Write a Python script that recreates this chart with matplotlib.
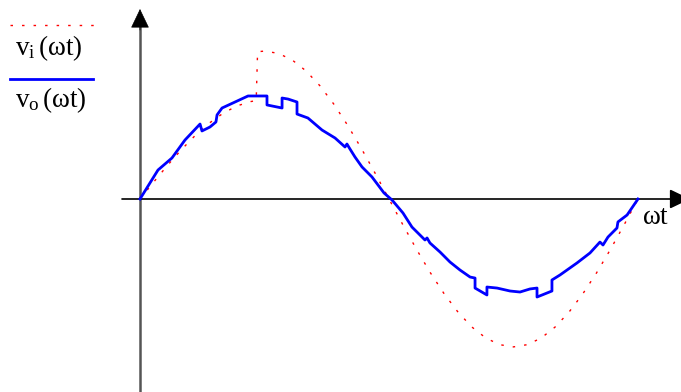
import matplotlib
matplotlib.use("Agg")
import matplotlib.pyplot as plt

plt.rcParams['mathtext.fontset'] = 'custom'
plt.rcParams['mathtext.rm'] = 'Liberation Serif'
plt.rcParams['mathtext.it'] = 'Liberation Serif'
plt.rcParams['font.family'] = ['Liberation Serif', 'DejaVu Serif']

# angle in degrees, output voltage (per unit)
vo_angle = [0, 13.0, 23.1, 32.5, 43.4, 44.8, 50.6, 54.9, 55.7, 59.3, 68.7, 78.1,
            91.8, 91.8, 102.7, 102.7, 107.0, 113.5, 113.5, 121.4, 131.6, 141.0,
            148.2, 149.6, 151.8, 155.4, 160.5, 167.7, 176.4, 182.2, 190.1, 196.6,
            206.0, 207.5, 209.6, 216.9, 224.1, 231.3, 238.6, 242.2, 242.2, 250.8,
            250.8, 258.1, 267.5, 274.7, 281.9, 287.0, 287.0, 297.8, 297.8, 303.6,
            315.9, 325.3, 332.5, 334.7, 338.3, 344.8, 345.5, 352.1, 360]
vo_value = [0, 0.284, 0.402, 0.578, 0.735, 0.667, 0.706, 0.755, 0.824, 0.892, 0.951, 1.010,
            1.010, 0.922, 0.892, 0.990, 0.980, 0.951, 0.833, 0.794, 0.676, 0.598,
            0.510, 0.539, 0.490, 0.412, 0.314, 0.216, 0.059, -0.010, -0.137, -0.275,
            -0.402, -0.382, -0.431, -0.520, -0.618, -0.696, -0.765, -0.775, -0.873, -0.941,
            -0.863, -0.873, -0.902, -0.912, -0.882, -0.873, -0.961, -0.902, -0.794, -0.745,
            -0.627, -0.529, -0.422, -0.451, -0.373, -0.284, -0.225, -0.157, 0]

# input voltage (per unit)
vi_angle = [0, 10, 20, 30, 40, 50, 60, 70, 80, 84, 85, 90, 100, 110, 120, 130, 140,
            150, 160, 170, 180, 190, 200, 210, 220, 230, 240, 250, 260, 270, 280,
            290, 300, 310, 320, 330, 340, 350, 360]
vi_value = [0, 0.168, 0.332, 0.485, 0.624, 0.743, 0.840, 0.912, 0.955, 0.965, 1.444,
            1.45, 1.428, 1.363, 1.256, 1.111, 0.932, 0.725, 0.496, 0.252, 0,
            -0.252, -0.496, -0.725, -0.932, -1.111, -1.256, -1.363, -1.428, -1.45,
            -1.428, -1.363, -1.256, -1.111, -0.932, -0.725, -0.496, -0.252, 0]

legend_labels = [r'$\mathrm{v_{i}\,(\omega t)}$', r'$\mathrm{v_{o}\,(\omega t)}$']
x_label = r'$\mathrm{\omega t}$'

W, H = 681, 392
fig = plt.figure(figsize=(W / 100, H / 100), dpi=100)
ax = fig.add_axes([0, 0, 1, 1])
pxdeg = 498 / 360.0
ax.set_xlim(-140 / pxdeg, (W - 140) / pxdeg)
ax.set_ylim(-(H - 199) / 102.0, 199 / 102.0)
ax.axis('off')

head = '-|>,head_length=1.25,head_width=0.6'
# vertical axis: gray shaft, black head
ax.plot([0, 0], [-(H - 199) / 102.0 - 0.05, (199 - 24) / 102.0], color='#555555',
        lw=1.8, solid_capstyle='butt', zorder=2)
ax.annotate('', xy=(0, (199 - 9) / 102.0), xytext=(0, (199 - 30) / 102.0),
            arrowprops=dict(arrowstyle=head, color='black', lw=0.5,
                            shrinkA=0, shrinkB=0), annotation_clip=False)
# horizontal axis
ax.annotate('', xy=((690 - 140) / pxdeg, 0), xytext=(-18 / pxdeg, 0),
            arrowprops=dict(arrowstyle=head, color='black', lw=1.2,
                            shrinkA=0, shrinkB=0), annotation_clip=False)

ax.plot(vi_angle, vi_value, color='red', lw=1.0, dashes=(1.8, 6.5), zorder=3)
ax.plot(vo_angle, vo_value, color='#0000ff', lw=2.0, zorder=4)

# legend drawn on the figure
fig.lines.append(plt.Line2D([10 / W, 95 / W], [1 - 25 / H, 1 - 25 / H],
                            color='red', lw=1.0, dashes=(1.8, 6.5),
                            transform=fig.transFigure))
fig.lines.append(plt.Line2D([10 / W, 93 / W], [1 - 79 / H, 1 - 79 / H],
                            color='#0000ff', lw=2.0, transform=fig.transFigure))
fig.text(15 / W, 1 - 48 / H, legend_labels[0], fontsize=19.5, va='center', ha='left')
fig.text(15 / W, 1 - 100 / H, legend_labels[1], fontsize=19.5, va='center', ha='left')
fig.text(642 / W, 1 - 218 / H, x_label, fontsize=19.5, va='center', ha='left')

fig.savefig('out.png', dpi=100)
